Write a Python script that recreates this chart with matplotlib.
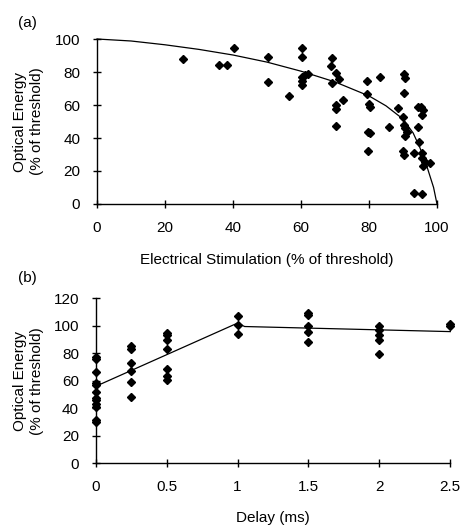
import matplotlib
matplotlib.use("Agg")
import matplotlib.pyplot as plt
import matplotlib.ticker as ticker

plt.rcParams['font.family'] = ['Liberation Sans', 'DejaVu Sans']

# panel (a): optical energy vs electrical stimulation
stim = [25.2, 35.9, 38.1, 40.3, 50.2, 50.2, 56.6, 60.2, 60.2, 60.2, 60.2, 60.2,
        61.2, 62.2, 69.0, 68.8, 70.2, 71.2, 69.0, 72.3, 70.2, 70.4, 70.2, 79.3,
        83.2, 79.5, 80.0, 80.3, 79.6, 80.3, 79.6, 86.0, 88.6, 90.3, 90.6, 90.4,
        89.9, 90.4, 90.6, 91.1, 90.6, 89.9, 90.4, 93.3, 94.5, 94.3, 95.2, 95.8,
        95.7, 94.7, 95.5, 95.7, 96.0, 97.8, 96.5, 93.2, 95.5]
energy_a = [87.7, 84.4, 84.4, 94.4, 89.3, 74.1, 65.6, 94.4, 89.3, 77.2, 74.5, 72.1,
            78.2, 78.6, 88.3, 83.6, 79.6, 75.6, 73.1, 63.0, 60.0, 57.4, 47.5, 74.7,
            77.2, 66.7, 60.6, 59.0, 43.8, 42.8, 32.3, 46.9, 58.0, 78.6, 76.2, 67.5,
            52.5, 47.9, 45.9, 43.8, 41.2, 32.3, 29.7, 30.7, 46.9, 59.0, 58.6, 57.0,
            53.9, 37.4, 30.7, 27.7, 23.2, 25.0, 25.6, 6.5, 5.9]
curve_x = [0, 10, 20, 30, 40, 50, 60, 70, 80, 85, 90, 93, 95, 97, 99, 100]
curve_y = [100, 98.8, 96.5, 93.7, 90.3, 86, 80.5, 74, 65.5, 59.5, 51.5, 43, 34, 23, 10, 0]

# panel (b): optical energy vs delay
delay = [0]*12 + [0.25]*6 + [0.5]*7 + [1]*3 + [1.5]*5 + [2]*5 + [2.5]*2
energy_b = [77.5, 75.9, 66.6, 58.2, 57.0, 52.1, 47.7, 46.0, 43.1, 41.2, 31.5, 29.8,
            85.5, 82.9, 72.7, 67.1, 58.9, 48.0,
            95.0, 93.0, 89.7, 82.9, 68.4, 63.5, 60.6,
            107.1, 100.6, 93.8,
            109.5, 108.0, 100.1, 95.7, 88.0,
            100.1, 96.9, 93.3, 89.7, 79.3,
            100.0, 101.2]
fit_x = [0, 1, 1.05, 2.5]
fit_y = [56, 102, 99.5, 95.8]

fig = plt.figure(figsize=(4.61, 5.30), dpi=100)
ax1 = fig.add_axes([0.2104, 0.6151, 0.7375, 0.3113])
ax2 = fig.add_axes([0.2076, 0.1258, 0.7692, 0.3113])

for ax in (ax1, ax2):
    ax.spines['top'].set_visible(False)
    ax.spines['right'].set_visible(False)
    ax.spines['left'].set_linewidth(1.0)
    ax.spines['bottom'].set_linewidth(1.0)
    ax.tick_params(direction='inout', length=6, width=1.0, labelsize=11)
    ax.tick_params(axis='x', pad=9)
    ax.tick_params(axis='y', pad=9)

ax1.plot(curve_x, curve_y, color='black', lw=0.9, clip_on=False)
ax1.plot(stim, energy_a, 'D', color='black', ms=4.5, clip_on=False)
ax1.set_xlim(0, 100)
ax1.set_ylim(0, 100)
ax1.xaxis.set_major_locator(ticker.MultipleLocator(20))
ax1.yaxis.set_major_locator(ticker.MultipleLocator(20))
ax1.set_xlabel('Electrical Stimulation (% of threshold)', fontsize=11, labelpad=13)
ax1.set_ylabel('Optical Energy\n(% of threshold)', fontsize=11)
ax1.yaxis.set_label_coords(-0.157, 0.5)

ax2.plot(fit_x, fit_y, color='black', lw=0.9, clip_on=False)
ax2.plot(delay, energy_b, 'D', color='black', ms=4.5, clip_on=False)
ax2.set_xlim(0, 2.5)
ax2.set_ylim(0, 120)
ax2.xaxis.set_major_locator(ticker.MultipleLocator(0.5))
ax2.yaxis.set_major_locator(ticker.MultipleLocator(20))
ax2.xaxis.set_major_formatter(ticker.FuncFormatter(lambda v, p: ('%g' % v)))
ax2.set_xlabel('Delay (ms)', fontsize=11, labelpad=12)
ax2.set_ylabel('Optical Energy\n(% of threshold)', fontsize=11)
ax2.yaxis.set_label_coords(-0.147, 0.5)

fig.text(18/461, 1 - 22.5/530, '(a)', fontsize=11, va='center')
fig.text(18/461, 1 - 278/530, '(b)', fontsize=11, va='center')

fig.savefig('out.png', dpi=100)
